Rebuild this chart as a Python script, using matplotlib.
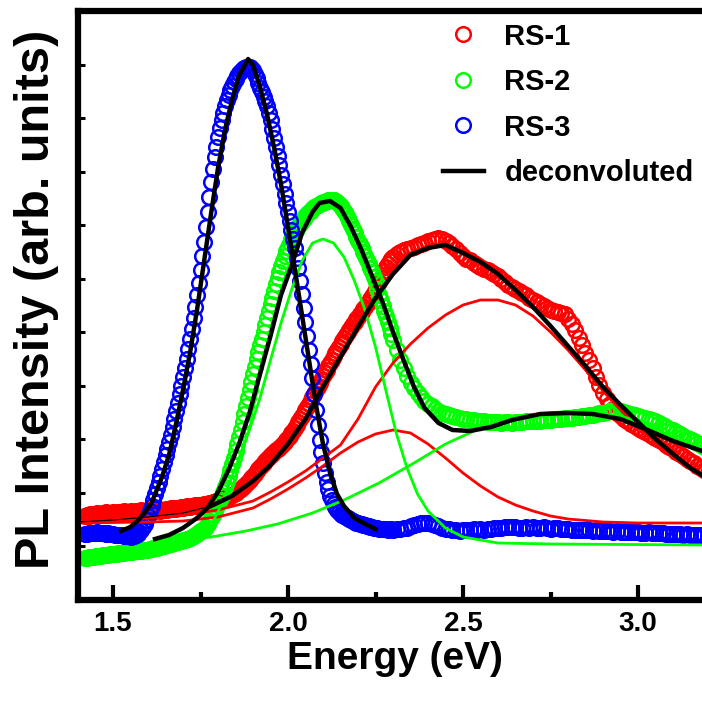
import numpy as np
import matplotlib.pyplot as plt

plt.rcParams['font.family'] = ['Liberation Sans', 'DejaVu Sans']
plt.rcParams['font.weight'] = 'bold'

# measured PL spectra, 5 meV steps starting at 1.42 eV (arb. units)
E_START = 1.42
E_STEP = 0.005

rs1 = [
    84, 85, 84, 86, 85, 86, 86, 87, 85, 86,
    87, 86, 88, 87, 86, 87, 88, 87, 86, 88,
    87, 88, 89, 87, 88, 88, 89, 87, 88, 89,
    88, 89, 90, 88, 89, 89, 90, 88, 89, 90,
    89, 90, 91, 89, 90, 90, 91, 90, 91, 92,
    91, 92, 91, 92, 92, 93, 92, 93, 94, 93,
    93, 94, 94, 95, 94, 95, 94, 95, 96, 96,
    96, 97, 97, 98, 98, 99, 99, 100, 101, 101,
    102, 103, 103, 104, 105, 106, 107, 108, 110, 111,
    113, 114, 116, 118, 120, 122, 124, 126, 129, 131,
    133, 135, 137, 139, 141, 143, 145, 146, 148, 150,
    151, 152, 154, 156, 158, 160, 162, 164, 167, 169,
    172, 175, 178, 181, 184, 187, 190, 193, 196, 200,
    203, 206, 210, 213, 217, 220, 224, 227, 230, 234,
    237, 240, 244, 247, 250, 253, 256, 259, 262, 265,
    268, 270, 273, 276, 278, 281, 283, 286, 288, 291,
    293, 296, 298, 301, 304, 307, 311, 314, 318, 322,
    325, 329, 333, 336, 339, 341, 343, 345, 346, 347,
    348, 349, 350, 350, 351, 352, 352, 353, 353, 354,
    355, 355, 356, 357, 357, 358, 359, 360, 360, 361,
    361, 361, 362, 361, 361, 360, 359, 358, 357, 355,
    354, 352, 351, 349, 347, 346, 344, 343, 341, 340,
    340, 338, 337, 336, 335, 334, 333, 332, 331, 330,
    330, 329, 328, 327, 326, 325, 324, 322, 321, 319,
    318, 317, 315, 314, 313, 312, 311, 310, 309, 308,
    307, 306, 305, 304, 302, 301, 300, 299, 298, 297,
    296, 295, 294, 293, 292, 291, 290, 289, 289, 288,
    288, 288, 287, 287, 286, 284, 281, 279, 276, 273,
    270, 266, 262, 259, 255, 251, 247, 244, 240, 236,
    232, 228, 223, 219, 215, 211, 207, 204, 201, 198,
    196, 194, 191, 189, 187, 186, 184, 183, 181, 180,
    179, 177, 176, 175, 174, 173, 172, 171, 170, 169,
    168, 167, 166, 165, 164, 163, 162, 161, 160, 159,
    158, 156, 155, 154, 153, 152, 151, 150, 148, 147,
    146, 145, 144, 142, 141, 140, 139, 138, 137, 135,
    134, 133, 132, 131, 130, 129, 127, 126, 125, 124,
]

rs2 = [
    42, 42, 43, 43, 43, 43, 44, 44, 44, 44,
    45, 45, 45, 45, 46, 46, 46, 46, 46, 47,
    47, 47, 47, 48, 48, 48, 48, 48, 49, 49,
    49, 49, 49, 50, 50, 50, 50, 51, 51, 52,
    52, 52, 53, 53, 54, 54, 55, 55, 56, 56,
    57, 57, 58, 58, 59, 59, 60, 60, 61, 61,
    62, 63, 64, 65, 66, 68, 69, 70, 71, 73,
    76, 79, 82, 85, 89, 92, 96, 100, 104, 108,
    113, 118, 124, 130, 136, 142, 149, 156, 163, 170,
    178, 186, 194, 202, 210, 218, 226, 233, 241, 248,
    255, 261, 268, 275, 282, 289, 296, 302, 309, 316,
    322, 328, 334, 339, 344, 349, 353, 357, 361, 364,
    368, 371, 374, 376, 379, 381, 384, 386, 388, 389,
    391, 393, 394, 395, 396, 397, 398, 398, 399, 400,
    400, 400, 400, 399, 398, 396, 394, 392, 389, 386,
    382, 379, 375, 371, 367, 363, 359, 356, 352, 348,
    344, 340, 336, 332, 328, 323, 318, 311, 305, 300,
    294, 289, 284, 278, 272, 266, 260, 255, 250, 245,
    240, 236, 232, 228, 224, 220, 217, 214, 212, 209,
    207, 205, 203, 201, 199, 198, 196, 195, 194, 192,
    191, 190, 189, 188, 187, 186, 186, 185, 185, 184,
    184, 183, 183, 182, 182, 182, 181, 181, 181, 180,
    180, 180, 180, 179, 179, 179, 179, 178, 179, 178,
    178, 178, 178, 178, 178, 177, 178, 178, 177, 178,
    178, 178, 178, 178, 177, 178, 178, 178, 178, 179,
    178, 179, 179, 179, 179, 179, 179, 179, 179, 179,
    179, 180, 180, 180, 180, 180, 180, 180, 181, 181,
    181, 181, 181, 181, 182, 182, 182, 182, 182, 183,
    183, 183, 183, 183, 184, 184, 184, 184, 185, 185,
    185, 186, 186, 186, 187, 187, 187, 188, 188, 189,
    189, 190, 190, 190, 190, 189, 189, 189, 188, 188,
    187, 187, 186, 186, 185, 185, 184, 184, 183, 183,
    182, 181, 181, 180, 180, 179, 179, 178, 177, 176,
    175, 174, 173, 172, 171, 170, 170, 169, 168, 167,
    166, 165, 164, 163, 162, 161, 161, 160, 159, 158,
    157, 156, 155, 154, 153, 152, 151, 151, 150, 149,
]

rs3 = [
    66, 66, 67, 67, 67, 67, 67, 68, 67, 67,
    67, 67, 66, 67, 66, 66, 66, 65, 65, 65,
    65, 65, 64, 64, 64, 64, 63, 64, 64, 65,
    66, 68, 70, 73, 76, 80, 84, 89, 94, 100,
    106, 112, 118, 124, 131, 138, 145, 151, 158, 165,
    173, 181, 189, 197, 206, 214, 223, 232, 241, 251,
    261, 271, 282, 293, 305, 317, 330, 344, 358, 373,
    388, 403, 418, 431, 443, 453, 463, 472, 480, 487,
    494, 500, 505, 510, 514, 518, 521, 524, 527, 529,
    531, 532, 533, 533, 533, 532, 530, 526, 522, 517,
    512, 508, 503, 499, 494, 487, 480, 471, 462, 453,
    444, 435, 425, 416, 406, 397, 388, 379, 370, 361,
    352, 342, 332, 319, 306, 292, 278, 264, 250, 236,
    222, 206, 190, 175, 160, 148, 137, 127, 118, 111,
    104, 100, 96, 93, 90, 88, 86, 85, 84, 83,
    82, 81, 80, 79, 78, 77, 77, 76, 76, 75,
    75, 74, 74, 73, 73, 72, 72, 72, 71, 71,
    71, 71, 71, 70, 71, 71, 70, 71, 71, 70,
    71, 71, 72, 72, 72, 73, 74, 74, 75, 75,
    76, 76, 77, 77, 77, 77, 77, 76, 76, 75,
    75, 74, 74, 73, 72, 72, 71, 71, 71, 70,
    70, 70, 70, 70, 69, 70, 70, 70, 70, 70,
    70, 70, 71, 70, 70, 71, 71, 71, 70, 71,
    71, 71, 71, 72, 72, 72, 72, 73, 72, 73,
    73, 72, 73, 73, 73, 72, 73, 73, 72, 73,
    72, 73, 73, 73, 72, 73, 73, 72, 72, 73,
    72, 72, 73, 72, 72, 72, 71, 72, 72, 71,
    72, 71, 71, 71, 71, 70, 71, 71, 70, 70,
    70, 71, 70, 70, 70, 70, 70, 69, 70, 70,
    69, 70, 70, 69, 69, 70, 69, 69, 69, 69,
    69, 69, 68, 69, 69, 68, 68, 69, 68, 68,
    68, 68, 68, 68, 68, 67, 68, 68, 67, 67,
    67, 67, 68, 67, 67, 67, 67, 66, 67, 67,
    67, 66, 66, 67, 66, 66, 66, 66, 66, 65,
    66, 66, 65, 65, 66, 65, 65, 65, 65, 65,
    65, 65, 65, 64, 65, 65, 64, 64, 65, 64,
]

# total fits
fit1_e = [1.40, 1.50, 1.60, 1.70, 1.78, 1.84, 1.90, 1.95, 2.00, 2.05, 2.10,
          2.15, 2.20, 2.25, 2.30, 2.35, 2.40, 2.45, 2.50, 2.55, 2.60, 2.65,
          2.70, 2.75, 2.80, 2.85, 2.90, 2.95, 3.00, 3.05, 3.10, 3.15, 3.20]
fit1_i = [78, 80, 83, 87, 94, 104, 119, 135, 156, 181, 213,
          243, 273, 302, 326, 345, 352, 355, 347, 338, 326, 310,
          293, 274, 254, 234, 213, 195, 178, 161, 146, 132, 121]

fit2_e = [1.62, 1.66, 1.70, 1.74, 1.77, 1.80, 1.83, 1.86, 1.89, 1.92, 1.95,
          1.98, 2.01, 2.04, 2.07, 2.09, 2.12, 2.15, 2.18, 2.21, 2.24, 2.27,
          2.30, 2.33, 2.36, 2.39, 2.43, 2.47, 2.52, 2.58, 2.64, 2.72, 2.80,
          2.87, 2.95, 3.02, 3.10, 3.20]
fit2_i = [61, 65, 72, 82, 92, 108, 130, 156, 187, 226, 264,
          305, 334, 367, 388, 397, 399, 392, 373, 350, 324, 298,
          268, 240, 213, 192, 177, 170, 169, 173, 180, 186, 187,
          186, 181, 171, 159, 147]

fit3_e = [1.523, 1.55, 1.57, 1.59, 1.61, 1.64, 1.66, 1.68, 1.70, 1.72, 1.74,
          1.76, 1.78, 1.80, 1.82, 1.84, 1.86, 1.886, 1.90, 1.92, 1.94, 1.96,
          1.98, 2.00, 2.02, 2.04, 2.06, 2.08, 2.10, 2.12, 2.14, 2.16, 2.19,
          2.22, 2.25]
fit3_i = [69, 73, 79, 87, 97, 123, 145, 176, 210, 247, 290,
          338, 386, 432, 470, 500, 524, 541, 535, 513, 486, 453,
          416, 373, 330, 285, 240, 195, 156, 127, 106, 94, 82,
          76, 71]

# gaussian components
rs1_hi_e = [1.40, 1.50, 1.60, 1.70, 1.80, 1.90, 1.95, 2.00, 2.05, 2.10, 2.15,
            2.20, 2.25, 2.30, 2.35, 2.40, 2.45, 2.50, 2.55, 2.60, 2.65, 2.70,
            2.75, 2.80, 2.85, 2.90, 2.95, 3.00, 3.05, 3.10, 3.15, 3.20]
rs1_hi_i = [79, 80, 82, 85, 90, 99, 108, 118, 129, 142, 155,
            181, 213, 237, 256, 272, 285, 295, 300, 300, 295, 284,
            268, 250, 230, 209, 190, 173, 158, 145, 134, 123]

rs1_lo_e = [1.40, 1.60, 1.70, 1.80, 1.90, 1.95, 2.00, 2.05, 2.10, 2.15, 2.20,
            2.25, 2.30, 2.35, 2.40, 2.45, 2.50, 2.55, 2.60, 2.65, 2.70, 2.75,
            2.80, 2.90, 3.00, 3.20]
rs1_lo_i = [77, 78, 79, 83, 92, 101, 111, 122, 134, 147, 158,
            166, 170, 167, 156, 142, 127, 114, 103, 95, 89, 84,
            81, 78, 77, 77]

rs2_lo_e = [1.62, 1.70, 1.74, 1.77, 1.80, 1.83, 1.86, 1.89, 1.92, 1.95, 1.98,
            2.01, 2.04, 2.07, 2.10, 2.13, 2.16, 2.19, 2.22, 2.25, 2.28, 2.31,
            2.34, 2.37, 2.40, 2.45, 2.50, 2.60, 2.75, 3.20]
rs2_lo_i = [55, 56, 60, 68, 88, 114, 142, 170, 202, 240, 277,
            310, 339, 357, 361, 357, 343, 319, 290, 253, 209, 166,
            132, 106, 89, 72, 63, 57, 56, 55]

rs2_hi_e = [1.62, 1.70, 1.78, 1.88, 1.97, 2.07, 2.16, 2.26, 2.36, 2.45, 2.55,
            2.64, 2.74, 2.82, 2.89, 2.97, 3.04, 3.12, 3.20]
rs2_hi_i = [58, 60, 63, 69, 76, 87, 100, 117, 137, 156, 172,
            182, 187, 189, 187, 182, 172, 159, 148]


def energy_axis(values):
    return E_START + E_STEP * np.arange(len(values))


def ring_indices(energy):
    # every point on the low-energy side, every second one above 2.3 eV
    idx = np.arange(len(energy))
    return idx[(energy < 2.3) | (idx % 2 == 0)]


fig = plt.figure(figsize=(7.02, 7.04), dpi=100)
ax = fig.add_axes([78 / 702, 1 - 600 / 704, 630 / 702, 589 / 704])

ring = dict(ls='none', marker='o', ms=10.5, mfc='none', mew=1.8)
handles = []
for values, color, name in [(rs1, '#ff0000', 'RS-1'),
                            (rs2, '#00ff00', 'RS-2'),
                            (rs3, '#0000ff', 'RS-3')]:
    energy = energy_axis(values)
    h, = ax.plot(energy, values, mec=color, label=name,
                 markevery=list(ring_indices(energy)), **ring)
    handles.append(h)

# components
ax.plot(rs1_hi_e, rs1_hi_i, color='#ff0000', lw=2)
ax.plot(rs1_lo_e, rs1_lo_i, color='#ff0000', lw=2)
ax.plot(rs2_lo_e, rs2_lo_i, color='#00ff00', lw=2)
ax.plot(rs2_hi_e, rs2_hi_i, color='#00ff00', lw=2)

# fits (RS-1 tail drawn thin)
fit1_e = np.array(fit1_e)
fit1_i = np.array(fit1_i)
tail = fit1_e <= 1.78
body = fit1_e >= 1.78
ax.plot(fit1_e[tail], fit1_i[tail], color='black', lw=0.8)
h4, = ax.plot(fit1_e[body], fit1_i[body], color='black', lw=3.2,
              label='deconvoluted')
handles.append(h4)
ax.plot(fit2_e, fit2_i, color='black', lw=3.2)
ax.plot(fit3_e, fit3_i, color='black', lw=3.2)

ax.set_xlim(1.4, 3.2)
ax.set_ylim(0, 589)
ax.set_xticks([1.5, 2.0, 2.5, 3.0])
ax.set_xticks([1.75, 2.25, 2.75], minor=True)
ax.set_yticks(np.linspace(0, 589, 12))
ax.set_yticklabels([])
ax.tick_params(axis='x', which='major', direction='in', length=11, width=3,
               labelsize=20, pad=8)
ax.tick_params(axis='x', which='minor', direction='in', length=6, width=3)
ax.tick_params(axis='y', direction='in', length=5, width=2.2)
for side in ax.spines.values():
    side.set_linewidth(4.5)

ax.set_xlabel('Energy (eV)', fontsize=28, fontweight='bold')
ax.xaxis.set_label_coords(0.503, -0.07)
ax.set_ylabel('PL Intensity (arb. units)', fontsize=35, fontweight='bold')
ax.yaxis.set_label_coords(-0.03, 0.51)

ax.legend(handles=handles, loc='upper left',
          bbox_to_anchor=(443 / 702, 0.968), bbox_transform=fig.transFigure,
          frameon=False, fontsize=21, handlelength=1.4, handletextpad=0.7,
          labelspacing=0.6, borderpad=0, borderaxespad=0)

fig.savefig('out.png', dpi=100)
